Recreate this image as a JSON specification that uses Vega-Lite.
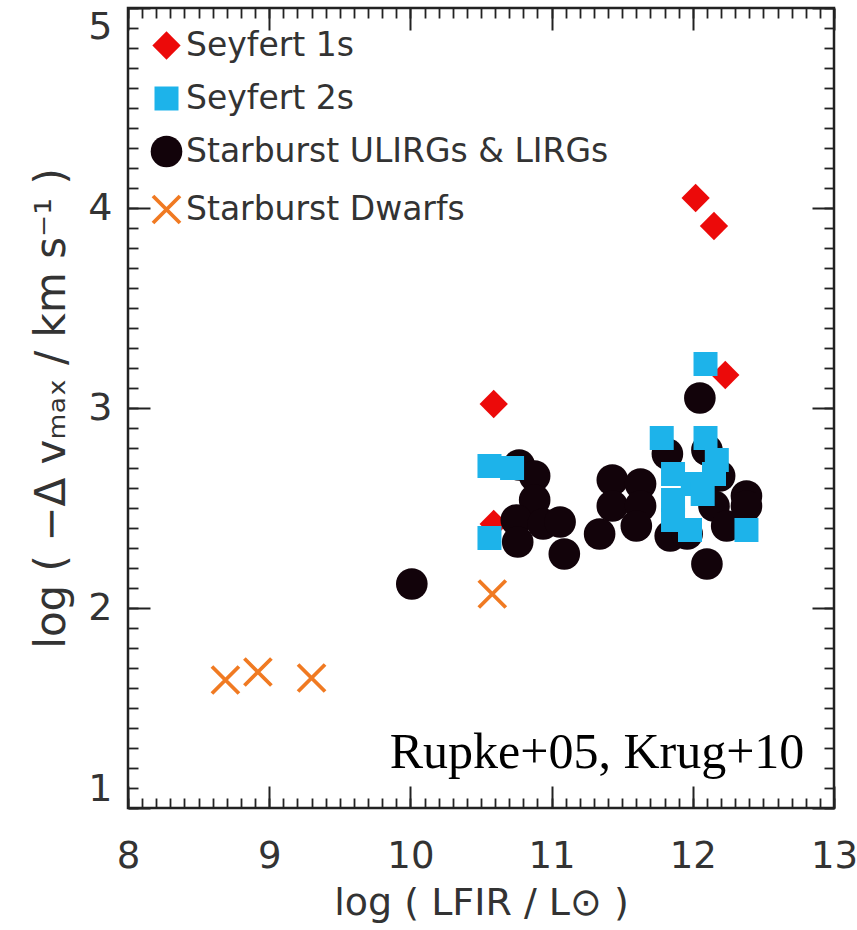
{
  "$schema": "https://vega.github.io/schema/vega-lite/v6.json",
  "width": 706,
  "height": 800,
  "autosize": {"type": "none"},
  "padding": {"left": 128, "top": 8, "right": 23, "bottom": 122},
  "background": "white",
  "config": {
    "view": {"stroke": "#222222", "strokeWidth": 2.5},
    "axis": {
      "domain": false,
      "grid": false,
      "labelFont": "DejaVu Sans",
      "titleFont": "DejaVu Sans",
      "labelColor": "#333333",
      "titleColor": "#333333",
      "tickColor": "#222222",
      "labelFontWeight": "normal",
      "titleFontWeight": "normal"
    },
    "legend": {
      "labelFont": "DejaVu Sans",
      "labelColor": "#333333",
      "labelFontSize": 33,
      "labelOffset": 3,
      "labelLimit": 700,
      "rowPadding": 19
    }
  },
  "datasets": {
    "pts": [
      {"lfir": 12.02, "v": 4.05, "type": "Seyfert 1s"},
      {"lfir": 12.15, "v": 3.91, "type": "Seyfert 1s"},
      {"lfir": 12.23, "v": 3.165, "type": "Seyfert 1s"},
      {"lfir": 10.59, "v": 3.02, "type": "Seyfert 1s"},
      {"lfir": 10.59, "v": 2.42, "type": "Seyfert 1s"},
      {"lfir": 10.01, "v": 2.12, "type": "Starburst ULIRGs & LIRGs"},
      {"lfir": 12.05, "v": 3.05, "type": "Starburst ULIRGs & LIRGs"},
      {"lfir": 10.77, "v": 2.715, "type": "Starburst ULIRGs & LIRGs"},
      {"lfir": 10.88, "v": 2.66, "type": "Starburst ULIRGs & LIRGs"},
      {"lfir": 10.88, "v": 2.54, "type": "Starburst ULIRGs & LIRGs"},
      {"lfir": 10.75, "v": 2.44, "type": "Starburst ULIRGs & LIRGs"},
      {"lfir": 10.76, "v": 2.33, "type": "Starburst ULIRGs & LIRGs"},
      {"lfir": 10.94, "v": 2.42, "type": "Starburst ULIRGs & LIRGs"},
      {"lfir": 11.06, "v": 2.43, "type": "Starburst ULIRGs & LIRGs"},
      {"lfir": 11.09, "v": 2.27, "type": "Starburst ULIRGs & LIRGs"},
      {"lfir": 11.43, "v": 2.64, "type": "Starburst ULIRGs & LIRGs"},
      {"lfir": 11.43, "v": 2.51, "type": "Starburst ULIRGs & LIRGs"},
      {"lfir": 11.34, "v": 2.37, "type": "Starburst ULIRGs & LIRGs"},
      {"lfir": 11.63, "v": 2.62, "type": "Starburst ULIRGs & LIRGs"},
      {"lfir": 11.63, "v": 2.51, "type": "Starburst ULIRGs & LIRGs"},
      {"lfir": 11.6, "v": 2.41, "type": "Starburst ULIRGs & LIRGs"},
      {"lfir": 11.82, "v": 2.77, "type": "Starburst ULIRGs & LIRGs"},
      {"lfir": 11.84, "v": 2.36, "type": "Starburst ULIRGs & LIRGs"},
      {"lfir": 12.1, "v": 2.79, "type": "Starburst ULIRGs & LIRGs"},
      {"lfir": 12.19, "v": 2.66, "type": "Starburst ULIRGs & LIRGs"},
      {"lfir": 12.15, "v": 2.51, "type": "Starburst ULIRGs & LIRGs"},
      {"lfir": 12.24, "v": 2.41, "type": "Starburst ULIRGs & LIRGs"},
      {"lfir": 12.38, "v": 2.56, "type": "Starburst ULIRGs & LIRGs"},
      {"lfir": 12.38, "v": 2.51, "type": "Starburst ULIRGs & LIRGs"},
      {"lfir": 12.1, "v": 2.22, "type": "Starburst ULIRGs & LIRGs"},
      {"lfir": 11.96, "v": 2.37, "type": "Starburst ULIRGs & LIRGs"},
      {"lfir": 12.09, "v": 3.22, "type": "Seyfert 2s"},
      {"lfir": 11.78, "v": 2.85, "type": "Seyfert 2s"},
      {"lfir": 12.09, "v": 2.85, "type": "Seyfert 2s"},
      {"lfir": 10.56, "v": 2.71, "type": "Seyfert 2s"},
      {"lfir": 10.72, "v": 2.7, "type": "Seyfert 2s"},
      {"lfir": 10.56, "v": 2.35, "type": "Seyfert 2s"},
      {"lfir": 11.86, "v": 2.67, "type": "Seyfert 2s"},
      {"lfir": 12.0, "v": 2.62, "type": "Seyfert 2s"},
      {"lfir": 12.15, "v": 2.67, "type": "Seyfert 2s"},
      {"lfir": 12.17, "v": 2.74, "type": "Seyfert 2s"},
      {"lfir": 11.86, "v": 2.54, "type": "Seyfert 2s"},
      {"lfir": 12.07, "v": 2.57, "type": "Seyfert 2s"},
      {"lfir": 11.86, "v": 2.44, "type": "Seyfert 2s"},
      {"lfir": 11.98, "v": 2.39, "type": "Seyfert 2s"},
      {"lfir": 12.38, "v": 2.39, "type": "Seyfert 2s"},
      {"lfir": 8.69, "v": 1.64, "type": "Starburst Dwarfs"},
      {"lfir": 8.92, "v": 1.68, "type": "Starburst Dwarfs"},
      {"lfir": 9.3, "v": 1.65, "type": "Starburst Dwarfs"},
      {"lfir": 10.58, "v": 2.07, "type": "Starburst Dwarfs"}
    ],
    "note": [
      {"lfir": 12.79, "v": 1.2, "label": "Rupke+05, Krug+10"}
    ]
  },
  "layer": [
    {
      "data": {"name": "pts"},
      "mark": {"type": "point", "opacity": 0},
      "encoding": {
        "x": {"field": "lfir", "type": "quantitative", "scale": {"domain": [8, 13], "nice": false, "zero": false},
          "axis": {"orient": "bottom", "values": [8, 9, 10, 11, 12, 13], "labels": false, "tickSize": -22, "tickWidth": 2, "title": null}},
        "y": {"field": "v", "type": "quantitative", "scale": {"domain": [1, 5], "nice": false, "zero": false},
          "axis": {"orient": "left", "values": [1, 2, 3, 4, 5], "labels": false, "tickSize": -22, "tickWidth": 2, "title": null}}
      }
    },
    {
      "data": {"name": "pts"},
      "mark": {"type": "point", "opacity": 0},
      "encoding": {
        "x": {"field": "lfir", "type": "quantitative", "scale": {"domain": [8, 13], "nice": false, "zero": false},
          "axis": {"orient": "bottom", "values": [8.0,8.1,8.2,8.3,8.4,8.5,8.6,8.7,8.8,8.9,9.0,9.1,9.2,9.3,9.4,9.5,9.6,9.7,9.8,9.9,10.0,10.1,10.2,10.3,10.4,10.5,10.6,10.7,10.8,10.9,11.0,11.1,11.2,11.3,11.4,11.5,11.6,11.7,11.8,11.9,12.0,12.1,12.2,12.3,12.4,12.5,12.6,12.7,12.8,12.9,13.0], "labels": false, "tickSize": -10, "tickWidth": 1.8, "title": null}},
        "y": {"field": "v", "type": "quantitative", "scale": {"domain": [1, 5], "nice": false, "zero": false},
          "axis": {"orient": "left", "values": [1.0,1.1,1.2,1.3,1.4,1.5,1.6,1.7,1.8,1.9,2.0,2.1,2.2,2.3,2.4,2.5,2.6,2.7,2.8,2.9,3.0,3.1,3.2,3.3,3.4,3.5,3.6,3.7,3.8,3.9,4.0,4.1,4.2,4.3,4.4,4.5,4.6,4.7,4.8,4.9,5.0], "labels": false, "tickSize": -10, "tickWidth": 1.8, "title": null}}
      }
    },
    {
      "data": {"name": "pts"},
      "mark": {"type": "point", "opacity": 0},
      "encoding": {
        "x": {"field": "lfir", "type": "quantitative", "scale": {"domain": [8, 13], "nice": false, "zero": false},
          "axis": {"orient": "top", "values": [8, 9, 10, 11, 12, 13], "labels": false, "tickSize": -22, "tickWidth": 2, "title": null}},
        "y": {"field": "v", "type": "quantitative", "scale": {"domain": [1, 5], "nice": false, "zero": false},
          "axis": {"orient": "right", "values": [1, 2, 3, 4, 5], "labels": false, "tickSize": -22, "tickWidth": 2, "title": null}}
      }
    },
    {
      "data": {"name": "pts"},
      "mark": {"type": "point", "opacity": 0},
      "encoding": {
        "x": {"field": "lfir", "type": "quantitative", "scale": {"domain": [8, 13], "nice": false, "zero": false},
          "axis": {"orient": "top", "values": [8.0,8.1,8.2,8.3,8.4,8.5,8.6,8.7,8.8,8.9,9.0,9.1,9.2,9.3,9.4,9.5,9.6,9.7,9.8,9.9,10.0,10.1,10.2,10.3,10.4,10.5,10.6,10.7,10.8,10.9,11.0,11.1,11.2,11.3,11.4,11.5,11.6,11.7,11.8,11.9,12.0,12.1,12.2,12.3,12.4,12.5,12.6,12.7,12.8,12.9,13.0], "labels": false, "tickSize": -10, "tickWidth": 1.8, "title": null}},
        "y": {"field": "v", "type": "quantitative", "scale": {"domain": [1, 5], "nice": false, "zero": false},
          "axis": {"orient": "right", "values": [1.0,1.1,1.2,1.3,1.4,1.5,1.6,1.7,1.8,1.9,2.0,2.1,2.2,2.3,2.4,2.5,2.6,2.7,2.8,2.9,3.0,3.1,3.2,3.3,3.4,3.5,3.6,3.7,3.8,3.9,4.0,4.1,4.2,4.3,4.4,4.5,4.6,4.7,4.8,4.9,5.0], "labels": false, "tickSize": -10, "tickWidth": 1.8, "title": null}}
      }
    },
    {
      "data": {"name": "pts"},
      "mark": {"type": "point", "opacity": 1, "fillOpacity": 1, "strokeOpacity": 1},
      "encoding": {
        "x": {"field": "lfir", "type": "quantitative", "scale": {"domain": [8, 13], "nice": false, "zero": false},
          "axis": {"orient": "bottom", "values": [8, 9, 10, 11, 12, 13], "ticks": false, "labelFlush": false, "labelPadding": 30, "labelFontSize": 37, "title": "log ( LFIR / L⊙ )", "titleFontSize": 38, "titlePadding": 10}},
        "y": {"field": "v", "type": "quantitative", "scale": {"domain": [1, 5], "nice": false, "zero": false},
          "axis": {"orient": "left", "values": [1, 2, 3, 4, 5], "ticks": false, "labelFlush": true, "labelPadding": 16, "labelFontSize": 38, "title": "log ( −Δ vₘₐₓ / km s⁻¹ )", "titleFontSize": 42, "titlePadding": 14}},
        "fill": {"field": "type", "type": "nominal",
          "scale": {"type": "ordinal", "domain": ["Seyfert 1s", "Seyfert 2s", "Starburst ULIRGs & LIRGs", "Starburst Dwarfs"], "range": ["#EC0A0A", "#1DB3EA", "#12030A", "#F07A22"]},
          "legend": {"orient": "none", "legendX": 22, "legendY": 21, "title": null,
            "encode": {"symbols": {"update": {"size": {"signal": "datum.value === 'Seyfert 1s' ? 380 : datum.value === 'Seyfert 2s' ? 289 : datum.value === 'Starburst Dwarfs' ? 550 : 470"}}}}}},
        "stroke": {"field": "type", "type": "nominal",
          "scale": {"type": "ordinal", "domain": ["Seyfert 1s", "Seyfert 2s", "Starburst ULIRGs & LIRGs", "Starburst Dwarfs"], "range": ["#EC0A0A", "#1DB3EA", "#12030A", "#F07A22"]}},
        "shape": {"field": "type", "type": "nominal",
          "scale": {"type": "ordinal", "domain": ["Seyfert 1s", "Seyfert 2s", "Starburst ULIRGs & LIRGs", "Starburst Dwarfs"], "range": ["diamond", "square", "circle", "M-1,-1L1,1M-1,1L1,-1"]}},
        "strokeWidth": {"field": "type", "type": "nominal",
          "scale": {"type": "ordinal", "domain": ["Seyfert 1s", "Seyfert 2s", "Starburst ULIRGs & LIRGs", "Starburst Dwarfs"], "range": [0, 0, 0, 3.8]}},
        "size": {"field": "type", "type": "nominal",
          "scale": {"type": "ordinal", "domain": ["Seyfert 1s", "Seyfert 2s", "Starburst ULIRGs & LIRGs", "Starburst Dwarfs"], "range": [800, 576, 1000, 729]}}
      }
    },
    {
      "data": {"name": "note"},
      "mark": {"type": "text", "align": "right", "baseline": "alphabetic", "font": "Liberation Serif", "fontSize": 50, "color": "#000000"},
      "encoding": {
        "x": {"field": "lfir", "type": "quantitative", "scale": {"domain": [8, 13], "nice": false, "zero": false}, "axis": null},
        "y": {"field": "v", "type": "quantitative", "scale": {"domain": [1, 5], "nice": false, "zero": false}, "axis": null},
        "text": {"field": "label"}
      }
    }
  ],
  "resolve": {"axis": {"x": "independent", "y": "independent"}}
}
